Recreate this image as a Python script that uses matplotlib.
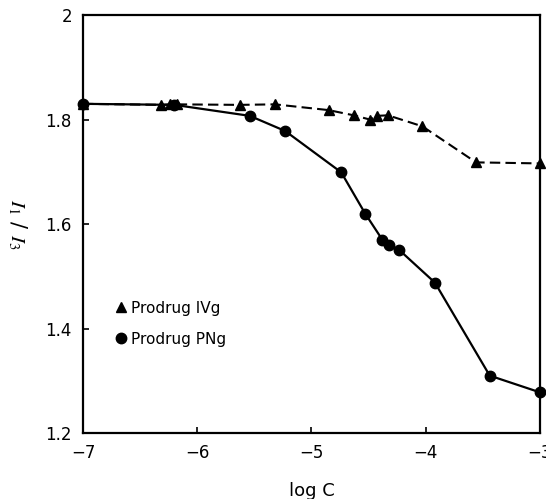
import matplotlib
matplotlib.use('Agg')
import matplotlib.pyplot as plt
from matplotlib.lines import Line2D

# Prodrug IVg (triangles, dashed)
ivg_logc = [-7.0, -6.32, -6.24, -6.18, -5.63, -5.32, -4.85, -4.63, -4.49, -4.43, -4.33, -4.03, -3.56, -3.0]
ivg_ratio = [1.830, 1.828, 1.829, 1.829, 1.828, 1.829, 1.818, 1.808, 1.800, 1.807, 1.808, 1.787, 1.718, 1.716]

# Prodrug PNg (circles, solid)
png_logc = [-7.0, -6.2, -5.54, -5.23, -4.74, -4.53, -4.38, -4.32, -4.23, -3.92, -3.44, -3.0]
png_ratio = [1.830, 1.828, 1.807, 1.778, 1.699, 1.620, 1.570, 1.559, 1.550, 1.488, 1.310, 1.278]

plt.rcParams['font.family'] = ['DejaVu Sans']
plt.rcParams['mathtext.fontset'] = 'stix'

fig = plt.figure(figsize=(5.46, 4.99), dpi=100)
ax = fig.add_axes([0.152, 0.132, 0.837, 0.838])

ax.plot(ivg_logc, ivg_ratio, color='black', lw=1.5, ls=(0, (5, 2.5)),
        marker='^', ms=7, clip_on=False)
ax.plot(png_logc, png_ratio, color='black', lw=1.6, ls='-',
        marker='o', ms=7.5, clip_on=False)

ax.set_xlim(-7, -3)
ax.set_ylim(1.2, 2.0)
ax.set_xticks([-7, -6, -5, -4, -3])
ax.set_yticks([1.2, 1.4, 1.6, 1.8, 2.0])
ax.set_yticklabels(['1.2', '1.4', '1.6', '1.8', '2'])
ax.tick_params(direction='in', length=4, width=1.2, labelsize=12, pad=8)
for s in ax.spines.values():
    s.set_linewidth(1.6)

ax.set_xlabel('log C', fontsize=13, labelpad=14)
ax.set_ylabel('$I_1$ / $I_3$', fontsize=15, rotation=270, labelpad=28)

handles = [Line2D([], [], color='black', marker='^', ls='None', ms=7),
           Line2D([], [], color='black', marker='o', ls='None', ms=7.5)]
ax.legend(handles, ['Prodrug IVg', 'Prodrug PNg'], loc='upper left',
          bbox_to_anchor=(0.044, 0.35), frameon=False, handlelength=0.6,
          handletextpad=0.3, labelspacing=1.05, fontsize=11)

fig.savefig('out.png', dpi=100)
